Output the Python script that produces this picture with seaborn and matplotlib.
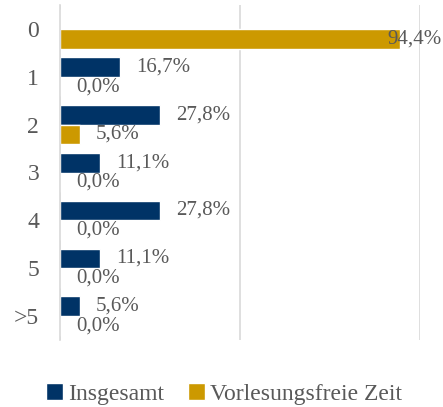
import pandas as pd
import seaborn as sns
import matplotlib.pyplot as plt

# Daten
kategorien = ['0', '1', '2', '3', '4', '5', '>5']
insgesamt = [0.0, 16.7, 27.8, 11.1, 27.8, 11.1, 5.6]
vorlesungsfrei = [94.4, 0.0, 5.6, 0.0, 0.0, 0.0, 0.0]
serien = ['Insgesamt', 'Vorlesungsfreie Zeit']

df = pd.DataFrame({
    'Kategorie': kategorien * 2,
    'Anteil': [v / 100 for v in insgesamt + vorlesungsfrei],
    'Gruppe': [serien[0]] * len(kategorien) + [serien[1]] * len(kategorien),
})

sns.set_theme(style='white')
plt.rcParams['font.family'] = ['Liberation Serif', 'DejaVu Serif']
grau = '#595959'

fig = plt.figure(figsize=(4.43, 4.07), dpi=100)
ax = fig.add_axes([60 / 443, 1 - 340 / 407, 360 / 443, 335 / 407])

sns.barplot(data=df, y='Kategorie', x='Anteil', hue='Gruppe', order=kategorien,
            hue_order=serien, palette=['#003366', '#CC9900'], orient='h',
            width=0.82, saturation=1, ax=ax, legend=True)

ax.set_xlim(0, 1)
ax.set_xticks([0, 0.5, 1.0])
ax.set_xticklabels([])
ax.grid(axis='x', color='#d9d9d9', linewidth=1.2)
ax.set_axisbelow(True)
ax.set_xlabel('')
ax.set_ylabel('')
for s in ['top', 'right', 'bottom']:
    ax.spines[s].set_visible(False)
ax.spines['left'].set_color('#d9d9d9')
ax.spines['left'].set_linewidth(1.2)
ax.tick_params(axis='x', length=0)
ax.tick_params(axis='y', which='major', length=0, labelsize=17, labelcolor=grau, pad=15)
ax.set_yticks([i + 0.5 for i in range(-1, len(kategorien))], minor=True)
ax.tick_params(axis='y', which='minor', length=5, color='#d9d9d9', width=1.2)
ax.set_ylim(len(kategorien) - 0.5, -0.5)

# Datenbeschriftungen
for cont in ax.containers:
    for bar in cont:
        w = bar.get_width()
        y = bar.get_y() + bar.get_height() / 2
        if bar.get_facecolor()[0] < 0.1 and w == 0:
            continue
        txt = f'{w * 100:.1f}%'.replace('.', ',')
        dx = 11.5 if w < 0.9 else -9
        ax.annotate(txt, (w, y), xytext=(dx, 0), textcoords='offset points',
                    ha='left', va='center', fontsize=15, color=grau,
                    annotation_clip=False)

ax.legend(loc='center', bbox_to_anchor=(0.455, -0.16), ncol=2, frameon=False,
          fontsize=17, labelcolor=grau, handlelength=0.75, handleheight=0.75,
          handletextpad=0.2, columnspacing=1.0)

plt.savefig('out.png', dpi=100)
